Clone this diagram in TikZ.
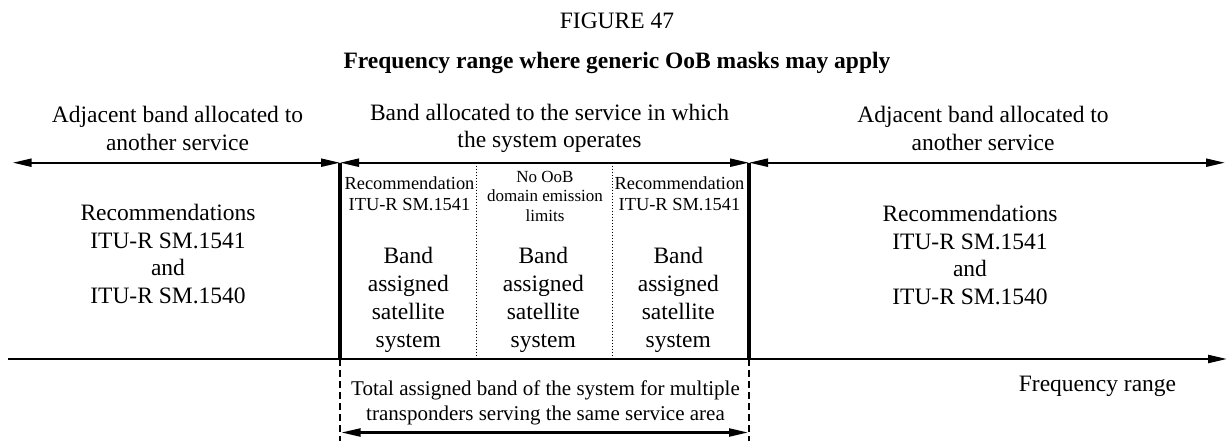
\documentclass[tikz,border=0pt]{standalone}
\usepackage{fontspec}
\setmainfont{Liberation Serif}
\usetikzlibrary{arrows.meta}
\begin{document}
\begin{tikzpicture}[x=1pt,y=-1pt,
  txt/.style={inner sep=0pt, align=center},
  big/.style={txt, font=\fontsize{23.5}{27.5}\selectfont},
  bigb/.style={txt, font=\fontsize{23.5}{27.5}\selectfont\bfseries},
  band/.style={txt, font=\fontsize{23.5}{27.8}\selectfont},
  small/.style={txt, font=\fontsize{18.4}{21}\selectfont},
  smaller/.style={txt, font=\fontsize{17}{19.7}\selectfont},
  mid/.style={txt, font=\fontsize{21}{25}\selectfont},
  tip/.tip={Triangle[length=19pt,width=8pt]},
  hline/.style={line width=2.2pt},
  darr/.style={hline, tip-tip},
  rarr/.style={hline, -tip},
  thickv/.style={line width=4pt},
  dashv/.style={line width=1.8pt, dash pattern=on 7pt off 4pt},
  dotv/.style={line width=1pt, dash pattern=on 1.5pt off 1.5pt}
]
\useasboundingbox (0,0) rectangle (1227,441);

% coordinates
\coordinate (L) at (12.7,162.7);
\coordinate (A) at (340,162.7);
\coordinate (B) at (749,162.7);
\coordinate (R) at (1225,162.7);
\coordinate (X0) at (8,359);
\coordinate (X1) at (1227,359);
\coordinate (Aa) at (340,359);
\coordinate (Ba) at (749,359);
\coordinate (Ab) at (340,441);
\coordinate (Bb) at (749,441);
\coordinate (Ac) at (341.5,432.5);
\coordinate (Bc) at (748,432.5);
\coordinate (D1t) at (476.7,162.7);
\coordinate (D1b) at (476.7,359);
\coordinate (D2t) at (612.7,162.7);
\coordinate (D2b) at (612.7,359);

% title
\node[big] (fig) at (617,20.7) {FIGURE 47};
\node[bigb] (title) at (617,63) {Frequency range where generic OoB masks may apply};

% headings
\node[big] (hl) at (177.5,128.5) {Adjacent band allocated to\\another service};
\node[big] (hm) at (549.5,128.5) {Band allocated to the service in which\\the system operates};
\node[big] (hr) at (983,128.5) {Adjacent band allocated to\\another service};

% lines
\draw[thickv] (A) -- (Aa);
\draw[thickv] (B) -- (Ba);
\draw[dotv] (D1t) -- (D1b);
\draw[dotv] (D2t) -- (D2b);
\draw[dashv] (Aa) -- (Ab);
\draw[dashv] (Ba) -- (Bb);
\draw[darr] (L) -- (A);
\draw[darr] (A) -- (B);
\draw[darr] (B) -- (R);
\draw[rarr] (X0) -- (X1);
\draw[darr] (Ac) -- (Bc);

% side blocks
\node[big] (recl) at (168,254) {Recommendations\\ITU-R SM.1541\\and\\ITU-R SM.1540};
\node[big] (recr) at (970,255) {Recommendations\\ITU-R SM.1541\\and\\ITU-R SM.1540};

% column headers
\node[small] (c1) at (409.5,193.7) {Recommendation\\ITU-R SM.1541};
\node[smaller] (c2) at (545,196.4) {No OoB\\domain emission\\limits};
\node[small] (c3) at (679.5,193.7) {Recommendation\\ITU-R SM.1541};

% band blocks
\node[band] (b1) at (408.3,300) {Band\\assigned\\satellite\\system};
\node[band] (b2) at (543.3,300) {Band\\assigned\\satellite\\system};
\node[band] (b3) at (678.3,300) {Band\\assigned\\satellite\\system};

% bottom
\node[mid] (tot) at (545.5,402.5) {Total assigned band of the system for multiple\\transponders serving the same service area};
\node[big] (fr) at (1097.5,386.7) {Frequency range};
\end{tikzpicture}
\end{document}
